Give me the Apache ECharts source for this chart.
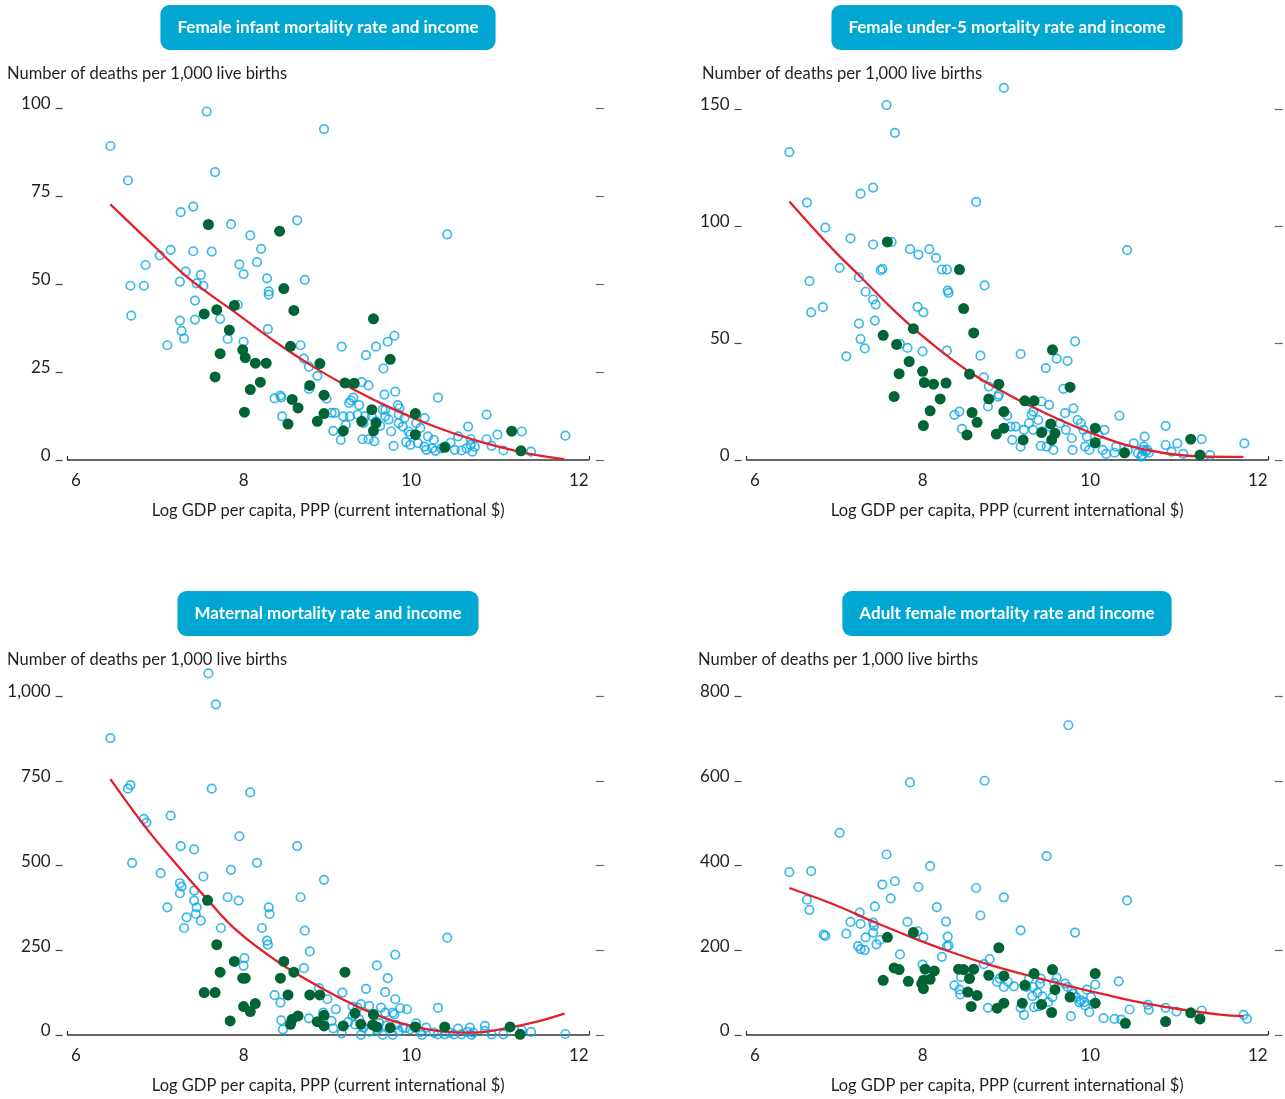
<!DOCTYPE html>
<html>
<head>
<meta charset="utf-8">
<script src="https://cdn.jsdelivr.net/npm/echarts@6/dist/echarts.min.js"></script>
<style>
html,body{margin:0;padding:0;background:#fff;}
#chart{width:1285px;height:1099px;}
</style>
</head>
<body>
<div id="chart"></div>
<script>
// ---------- shared ----------
const xTickValues = [6, 8, 10, 12];
const panelTitles = [
  'Female infant mortality rate and income',
  'Female under-5 mortality rate and income',
  'Maternal mortality rate and income',
  'Adult female mortality rate and income'
];
const yAxisTitle = 'Number of deaths per 1,000 live births';
const xAxisTitle = 'Log GDP per capita, PPP (current international $)';

// ---------- Panel 1: female infant mortality ----------
const infantYTicks = [0, 25, 50, 75, 100];
const infantOthers = [
  [6.41,89.2],[6.62,79.4],[7.56,99],[8.96,94],[7.66,81.8],[7.25,70.4],[7.4,72],[7.85,67],[8.64,68.1],[8.08,63.8],
  [10.43,64.1],[7.13,59.7],[7.4,59.3],[7.62,59.2],[8.21,60],[7.0,58.1],[6.83,55.4],[7.95,55.6],[8.16,56.2],[7.31,53.5],
  [7.49,52.6],[8.0,52.8],[7.24,50.7],[7.44,50.2],[7.52,49.5],[8.28,51.6],[8.73,51.2],[6.65,49.5],[6.81,49.5],
  [7.42,45.3],[6.66,41],[7.24,39.6],[7.42,39.9],[7.26,36.7],[7.29,34.5],[7.09,32.6],[7.72,40.1],[7.93,44.1],[7.81,34.4],
  [8.0,33.6],[8.3,47.9],[8.3,47.0],[8.29,37.2],[8.68,32.6],[8.72,28.8],[8.78,26.5],[8.88,23.9],[8.99,17.4],[8.78,20.2],
  [8.37,17.5],[8.44,18.3],[8.45,17.8],[8.46,12.4],[9.17,32.2],[9.46,29.8],[9.58,32.2],[9.72,33.6],[9.8,35.3],[9.67,26],
  [9.41,22.1],[9.49,21.2],[9.31,17.7],[9.28,16.9],[9.26,16.2],[9.38,15.6],[9.68,18.6],[9.81,19.4],[9.84,15.6],[9.86,14.7],
  [10.32,17.7],[9.66,14.3],[9.69,14.2],[9.05,13.4],[9.09,13.4],[9.19,12.4],[9.27,12.4],[9.36,12.9],[9.45,12.4],[9.22,10],
  [9.43,10.5],[9.53,12.4],[9.58,11],[9.07,8.3],[9.16,5.7],[9.42,5.9],[9.49,5.9],[9.56,5.3],[9.79,4],[9.63,9.7],
  [9.69,12.4],[9.73,11.5],[9.85,12.9],[9.92,11.9],[9.85,10.5],[9.9,9.5],[9.97,8.1],[9.76,8.1],[9.99,7.2],[10.06,10.5],
  [10.16,11.9],[10.11,9.1],[10.2,6.7],[10.27,5.7],[9.94,5.1],[9.99,4.3],[10.08,4.8],[10.16,3.8],[10.18,2.9],[10.25,3.3],
  [10.29,2.6],[10.36,3.3],[10.41,3.8],[10.47,4.9],[10.56,6.7],[10.68,9.5],[10.71,5.9],[10.71,4.3],[10.66,3.3],[10.76,3.8],
  [10.73,2.4],[10.6,2.7],[10.52,2.9],[10.9,5.9],[10.9,12.9],[11.03,7.2],[10.96,4],[11.1,2.7],[11.32,8.1],[11.43,2.4],[11.84,6.9]
];
const infantHighlighted = [
  [7.58,66.9],[8.43,65],[8.48,48.7],[7.53,41.5],[7.68,42.7],[7.89,43.9],[8.6,42.5],[9.55,40.1],[7.83,36.9],[7.72,30.2],
  [8.56,32.3],[7.99,31.3],[8.02,29.1],[8.14,27.5],[8.27,27.5],[7.66,23.6],[9.75,28.6],[8.91,27.4],[8.08,20],[8.2,22.1],
  [8.79,21.2],[9.21,21.9],[9.32,21.8],[8.96,18.4],[8.58,17.2],[8.65,14.8],[8.01,13.6],[8.96,13.2],[9.53,14.3],[9.41,11],
  [9.58,10.5],[8.53,10.2],[8.88,11],[9.19,8.3],[9.55,8.3],[10.05,13.2],[10.05,7.2],[10.4,3.6],[11.2,8.2],[11.31,2.6]
];
const infantFit = [
  [6.41,72.6],[6.9,61.5],[7.35,51.5],[7.92,41.6],[8.39,33.4],[8.86,26.1],[9.33,19.8],[9.8,14.3],[10.27,9.6],
  [10.74,5.8],[11.21,2.8],[11.5,1.4],[11.83,0.2]
];

// ---------- Panel 2: female under-5 mortality ----------
const under5YTicks = [0, 50, 100, 150];
const under5Others = [
  [8.97,159],[7.57,151.7],[7.67,139.8],[6.41,131.6],[7.26,113.8],[7.41,116.4],[6.62,110],[8.64,110.3],[6.84,99.3],[7.14,94.7],
  [7.41,92.1],[7.63,93.2],[7.85,90.1],[7.95,87.8],[8.08,90.1],[8.16,86.4],[10.44,89.7],
  [7.01,82.1],[7.24,78.1],[7.5,81.1],[7.52,81.7],[8.23,81.4],[8.29,81.4],[6.65,76.4],[7.32,71.9],[7.41,68.6],[7.44,66.4],
  [8.3,72.4],[8.31,71.4],[8.74,74.6],[6.67,63.1],[6.81,65.3],[7.43,59.6],[7.94,65.4],[8.01,63.1],[7.24,58.3],[7.26,51.7],
  [7.31,47.7],[7.09,44.3],[7.73,49.6],[7.82,47.9],[8.0,46.4],[8.29,46.7],[8.69,44.6],[9.17,45.3],[9.47,39.3],[9.6,43.3],
  [9.73,42.4],[9.82,50.7],[9.68,30.4],[8.73,35.3],[8.79,31.4],[8.9,27.1],[8.91,27.9],[8.78,22.9],[9.01,19],[8.38,19.3],
  [8.44,20.7],[8.47,13.3],[9.05,14.3],[9.11,14.3],[9.42,25],[9.51,23.6],[9.32,20.7],[9.3,19.3],[9.38,17.1],[9.27,15.7],
  [9.21,12.9],[9.32,12.9],[9.07,8.6],[9.17,5.7],[9.41,6],[9.48,5.7],[9.56,4.3],[9.43,12.1],[9.52,14.3],[9.64,15.7],
  [9.7,20],[9.8,22.1],[9.85,17.1],[9.89,15.7],[9.71,12.9],[9.78,9.3],[9.79,4.3],[9.92,12.9],[9.96,10],[9.94,5.7],
  [9.99,4.3],[10.06,7.1],[10.1,10.7],[10.17,12.9],[10.15,4.3],[10.19,2.6],[10.29,3.1],[10.35,18.9],[10.31,5.7],[10.45,4.3],
  [10.52,7.1],[10.57,2.9],[10.61,1.4],[10.63,4.3],[10.65,10],[10.66,3.6],[10.68,4.3],[10.7,3.1],[10.64,5.7],[10.62,2.1],
  [10.9,14.6],[10.9,6.4],[10.97,3.6],[11.04,7.1],[11.11,2.6],[11.33,8.9],[11.43,2.1],[11.84,7.1]
];
const under5Highlighted = [
  [7.58,93.2],[8.44,81.4],[8.49,64.7],[8.61,54.3],[7.89,56.1],[7.53,53.3],[7.69,49.4],[7.84,42.1],[8.0,37.9],[7.72,36.9],
  [8.56,36.7],[8.02,33.1],[8.13,32.4],[8.28,32.9],[7.66,27.1],[8.21,26.1],[8.91,32.4],[8.79,26.1],[8.09,21],[8.59,20.3],
  [8.97,20.7],[8.01,14.7],[8.65,16.1],[8.53,10.7],[8.97,13.6],[8.88,11.1],[9.22,25.3],[9.33,25.3],[9.55,47.1],[9.76,31.1],
  [9.53,15.4],[9.42,11.7],[9.58,11.4],[9.2,8.6],[9.54,8.6],[10.06,13.6],[10.06,7.4],[10.41,3.1],[11.2,8.9],[11.31,2.1]
];
const under5Fit = [
  [6.41,110.5],[6.93,90],[7.27,77.9],[7.69,62.9],[8.1,50],[8.56,37.6],[9.02,28],[9.48,19.8],[9.94,12.6],
  [10.4,6.7],[10.86,3.1],[11.32,1.5],[11.83,1.3]
];

// ---------- Panel 3: maternal mortality ----------
const maternalYTicks = [0, 250, 500, 750, 1000];
const maternalOthers = [
  [7.58,1066.7],[7.67,975.5],[6.41,875.5],[6.62,726.5],[6.65,737.3],[7.62,726.5],[8.08,715.7],[6.81,637.3],[6.84,626.5],[7.13,647.1],
  [7.95,586.3],[7.25,557.2],[7.41,547.3],[8.64,557.2],[6.67,507.9],[8.16,507.9],[7.01,477.3],[7.85,487.2],[8.96,457.6],[7.24,447.7],
  [7.26,437.9],[7.52,467.5],[7.41,426],[7.24,418.1],[7.41,396.4],[7.81,406.3],[7.94,396.4],[8.68,406.3],[7.09,376.7],[7.44,376.7],
  [8.3,376.7],[8.31,357],[7.32,347.1],[7.43,357],[7.49,337.3],[7.29,315.6],[7.73,315.6],[8.22,315.6],[8.73,307.7],[8.28,278.1],
  [8.29,266.3],[10.43,287],[8.01,226.8],[8.0,204.1],[8.79,246.5],[9.81,236.7],[9.59,205.1],[8.72,197.2],[9.72,167.7],[8.9,138.1],
  [9.46,136.1],[9.18,125.2],[9.69,126.2],[8.37,117.4],[8.44,95.7],[9.0,105.5],[9.81,105.5],[10.32,79.9],[9.1,75.9],
  [9.3,84],[9.4,91],[9.5,86],[9.36,81],[9.3,56],[9.38,46],[9.25,39],[9.33,31],[9.43,22],[9.64,80.9],[9.69,66],[9.78,66],
  [9.87,78.9],[9.95,75.9],[9.8,61],[8.45,43.4],[8.47,16.8],[8.78,49.3],[8.95,66],[9.05,41.4],[9.07,19.7],
  [9.62,35],[9.7,28],[9.82,30],[9.93,20],[9.6,15],[9.5,10],
  [9.17,5],[9.4,0.5],[9.66,0.5],[9.78,0.5],[9.85,12],[9.9,22],[9.99,17],[10.06,34],[10.11,9],[10.13,0.5],[10.18,22],
  [10.27,7],[10.32,2],[10.4,2],[10.46,7],[10.51,2],[10.56,19],[10.6,2],[10.67,9],[10.7,22],[10.72,0.5],[10.74,7],
  [10.88,27],[10.88,12],[10.96,2],[11.1,2],[11.32,14],[11.43,9],[11.84,3]
];
const maternalHighlighted = [
  [7.57,397.4],[7.68,266.3],[7.89,217],[8.48,217],[7.72,185.4],[8.6,185.4],[9.21,185.4],[7.99,167.7],[8.02,167.7],[8.44,167.7],
  [7.53,125.2],[7.66,125.2],[8.53,118.3],[8.79,118.3],[8.91,118.3],[8.0,83.8],[8.14,92.7],[8.08,69],[9.33,64.1],[8.96,58.2],
  [9.55,60.2],[8.65,56.2],[8.58,46.4],[7.84,41.4],[8.56,31.6],[8.88,39.4],[8.96,26.6],[9.19,26.6],[9.4,31.6],[9.54,29.6],
  [9.59,23.7],[9.75,21.7],[10.05,23.7],[10.4,23.7],[11.18,23.7],[11.3,2]
];
const maternalFit = [
  [6.41,755],[6.86,603.6],[7.21,500],[7.58,396.4],[7.92,307.7],[8.39,219],[8.86,148],[9.33,87],[9.8,40],
  [10.27,13.8],[10.74,7],[11.17,21.7],[11.5,39.4],[11.83,63.1]
];

// ---------- Panel 4: adult female mortality ----------
const adultYTicks = [0, 200, 400, 600, 800];
const adultOthers = [
  [9.74,731],[7.85,596],[8.74,600],[7.01,477],[7.57,426],[9.48,422],
  [8.09,398.4],[6.41,384.2],[6.67,386.5],[7.52,354.9],[7.67,362.8],[7.95,349.3],[8.64,346.9],[10.44,317.6],[8.97,324.8],[7.62,322.4],
  [6.62,319.2],[6.65,295.4],[8.17,301.8],[7.43,303.4],[7.25,289.1],[8.69,282],[7.82,266.9],[7.14,266.9],[7.26,262.2],[7.41,265.3],
  [7.42,257.4],[8.28,267.7],[9.17,247.1],[9.82,241.6],[7.94,244.8],[7.41,241.6],[6.82,236.8],[6.84,233.7],[7.09,239.2],[7.32,230.5],
  [8.01,230.5],[8.3,232.1],[7.49,224.2],[7.45,213.9],[7.23,209.9],[7.26,202.8],[7.31,200.4],[8.29,209.9],[8.31,210.7],[7.73,190.1],
  [8.23,184.6],[8.8,179],[8.73,167.1],[8.0,166.3],[8.46,137],[8.44,106.9],[8.45,95.8],[8.38,117.2],[8.89,125.1],[8.92,133.1],
  [9.02,125.1],[8.97,113.3],[9.09,114.9],[9.27,133.1],[9.24,113.3],[9.32,113.3],[9.4,121.2],[9.41,133.1],
  [9.31,91.9],[9.37,99.8],[9.43,91.1],[9.5,77.6],[9.55,89.5],[9.57,122.8],[9.6,135.4],[9.38,67.3],[9.7,121.2],[9.73,113.3],
  [9.78,105.3],[9.83,89.5],[9.87,77.6],[9.8,97.4],[9.89,81.6],[9.96,106.9],[10.01,89.5],[10.06,118.8],[9.94,69.7],[9.99,53.9],
  [9.93,77.6],[8.78,64.2],[9.17,64.2],[9.21,47.5],[9.33,65.7],[9.77,44.4],[10.16,39.6],[10.29,38],[10.37,36.4],[10.34,126.7],
  [10.47,60.2],[10.69,71.3],[10.7,59.4],[10.9,64.2],[11.03,55.4],[11.33,57.8],[11.83,47.5],[11.87,38]
];
const adultHighlighted = [
  [7.89,241.6],[7.58,230.5],[8.91,205.9],[7.66,158.4],[7.72,154.5],[8.14,151.3],[8.03,155.2],[8.43,155.2],[8.49,154.5],[8.61,155.2],
  [9.55,154.5],[9.33,145],[10.06,145],[8.97,139.4],[8.79,141],[8.09,131.5],[8.01,129.1],[8.56,133.1],[7.53,129.1],[7.83,126.7],
  [7.99,121.2],[9.22,117.2],[8.01,109.3],[9.58,106.9],[8.54,101.4],[8.65,93.5],[9.76,89.5],[9.19,75.2],[8.97,75.2],[9.42,72.1],
  [8.58,67.3],[8.89,63.4],[9.54,53.1],[10.06,75.2],[10.42,27.7],[10.9,31.7],[11.2,52.3],[11.31,38]
];
const adultFit = [
  [6.41,346.9],[6.95,307.3],[7.41,267.7],[7.87,230.5],[8.33,196.4],[8.79,166.3],[9.25,141],[9.71,117.2],[10.17,95.8],
  [10.63,76],[11.09,60.2],[11.55,48.3],[11.83,44.4]
];

// ---------- build option ----------
const FONT = 'Lato';
const TXT = '#231f20';
const CYAN = '#0aa8e6';
const GREEN = '#006437';
const RED = '#e4202c';
const PILL = '#00a7d3';

const panels = [
  {title: panelTitles[0], ticks: infantYTicks, others: infantOthers, hi: infantHighlighted, fit: infantFit,
   left: 67.6, top: 108, height: 352, titleX: 328, titleY: 5, yNameX: 7, yNameY: 74},
  {title: panelTitles[1], ticks: under5YTicks, others: under5Others, hi: under5Highlighted, fit: under5Fit,
   left: 746.6, top: 109, height: 351, titleX: 1007, titleY: 5, yNameX: 702, yNameY: 74},
  {title: panelTitles[2], ticks: maternalYTicks, others: maternalOthers, hi: maternalHighlighted, fit: maternalFit,
   left: 67.6, top: 696, height: 339, titleX: 328, titleY: 591, yNameX: 7, yNameY: 660},
  {title: panelTitles[3], ticks: adultYTicks, others: adultOthers, hi: adultHighlighted, fit: adultFit,
   left: 746.6, top: 696, height: 339, titleX: 1007, titleY: 591, yNameX: 698, yNameY: 660}
];

const XMIN = 5.9, XMAX = 12.12, PXU = 83.8;
const grid = [], xAxis = [], yAxis = [], series = [], graphic = [];

panels.forEach((p, i) => {
  grid.push({left: p.left, top: p.top, width: (XMAX - XMIN) * PXU, height: p.height, containLabel: false});
  xAxis.push({
    type: 'value', gridIndex: i, min: XMIN, max: XMAX,
    name: xAxisTitle, nameLocation: 'middle', nameGap: 42,
    nameTextStyle: {fontFamily: FONT, fontSize: 16.5, color: TXT},
    axisLine: {show: true, lineStyle: {color: '#333', width: 1.6}},
    axisTick: {show: true, customValues: [XMIN, XMAX], length: 4, inside: true, lineStyle: {color: '#333', width: 1.2}},
    axisLabel: {customValues: xTickValues, margin: 12, fontFamily: FONT, fontSize: 17, color: TXT},
    splitLine: {show: false}
  });
  const t = p.ticks;
  const common = {type: 'value', gridIndex: i, min: t[0], max: t[t.length - 1], interval: t[1] - t[0],
    axisLine: {show: false}, splitLine: {show: false}};
  yAxis.push(Object.assign({}, common, {
    position: 'left', offset: 5,
    axisTick: {show: true, length: 7, lineStyle: {color: '#444', width: 1.2}},
    axisLabel: {margin: 12, fontFamily: FONT, fontSize: 17, color: TXT, verticalAlign: 'bottom', lineHeight: 8,
      formatter: v => v.toLocaleString('en-US')}
  }));
  yAxis.push(Object.assign({}, common, {
    position: 'right', offset: 7,
    axisTick: {show: true, length: 8, lineStyle: {color: '#666', width: 1.2}},
    axisLabel: {show: false}
  }));
  series.push({
    type: 'scatter', name: 'Other economies', xAxisIndex: i, yAxisIndex: 2 * i, data: p.others,
    symbol: 'circle', symbolSize: 8.5, clip: false, z: 2,
    itemStyle: {color: 'rgba(255,255,255,0)', borderColor: CYAN, borderWidth: 1.7}
  });
  series.push({
    type: 'line', name: 'Fitted', xAxisIndex: i, yAxisIndex: 2 * i, data: p.fit,
    smooth: 0.4, showSymbol: false, clip: false, z: 3,
    lineStyle: {color: RED, width: 2.3}
  });
  series.push({
    type: 'scatter', name: 'Highlighted economies', xAxisIndex: i, yAxisIndex: 2 * i, data: p.hi,
    symbol: 'circle', symbolSize: 11, clip: false, z: 4,
    itemStyle: {color: GREEN, opacity: 1}
  });
  graphic.push({
    type: 'text', x: p.titleX, y: p.titleY, z: 10,
    style: {text: p.title, align: 'center', verticalAlign: 'top', fill: '#fff',
      fontFamily: FONT, fontWeight: 'bold', fontSize: 17, lineHeight: 19,
      backgroundColor: PILL, padding: [13, 17, 13, 17], borderRadius: 9}
  });
  graphic.push({
    type: 'text', x: p.yNameX, y: p.yNameY, z: 10,
    style: {text: yAxisTitle, align: 'left', verticalAlign: 'middle', fill: TXT,
      fontFamily: FONT, fontSize: 16.5}
  });
});

const chart = echarts.init(document.getElementById('chart'), null, {renderer: 'canvas'});
chart.setOption({
  animation: false,
  backgroundColor: '#fff',
  textStyle: {fontFamily: FONT},
  grid, xAxis, yAxis, series, graphic
});
</script>
</body>
</html>
